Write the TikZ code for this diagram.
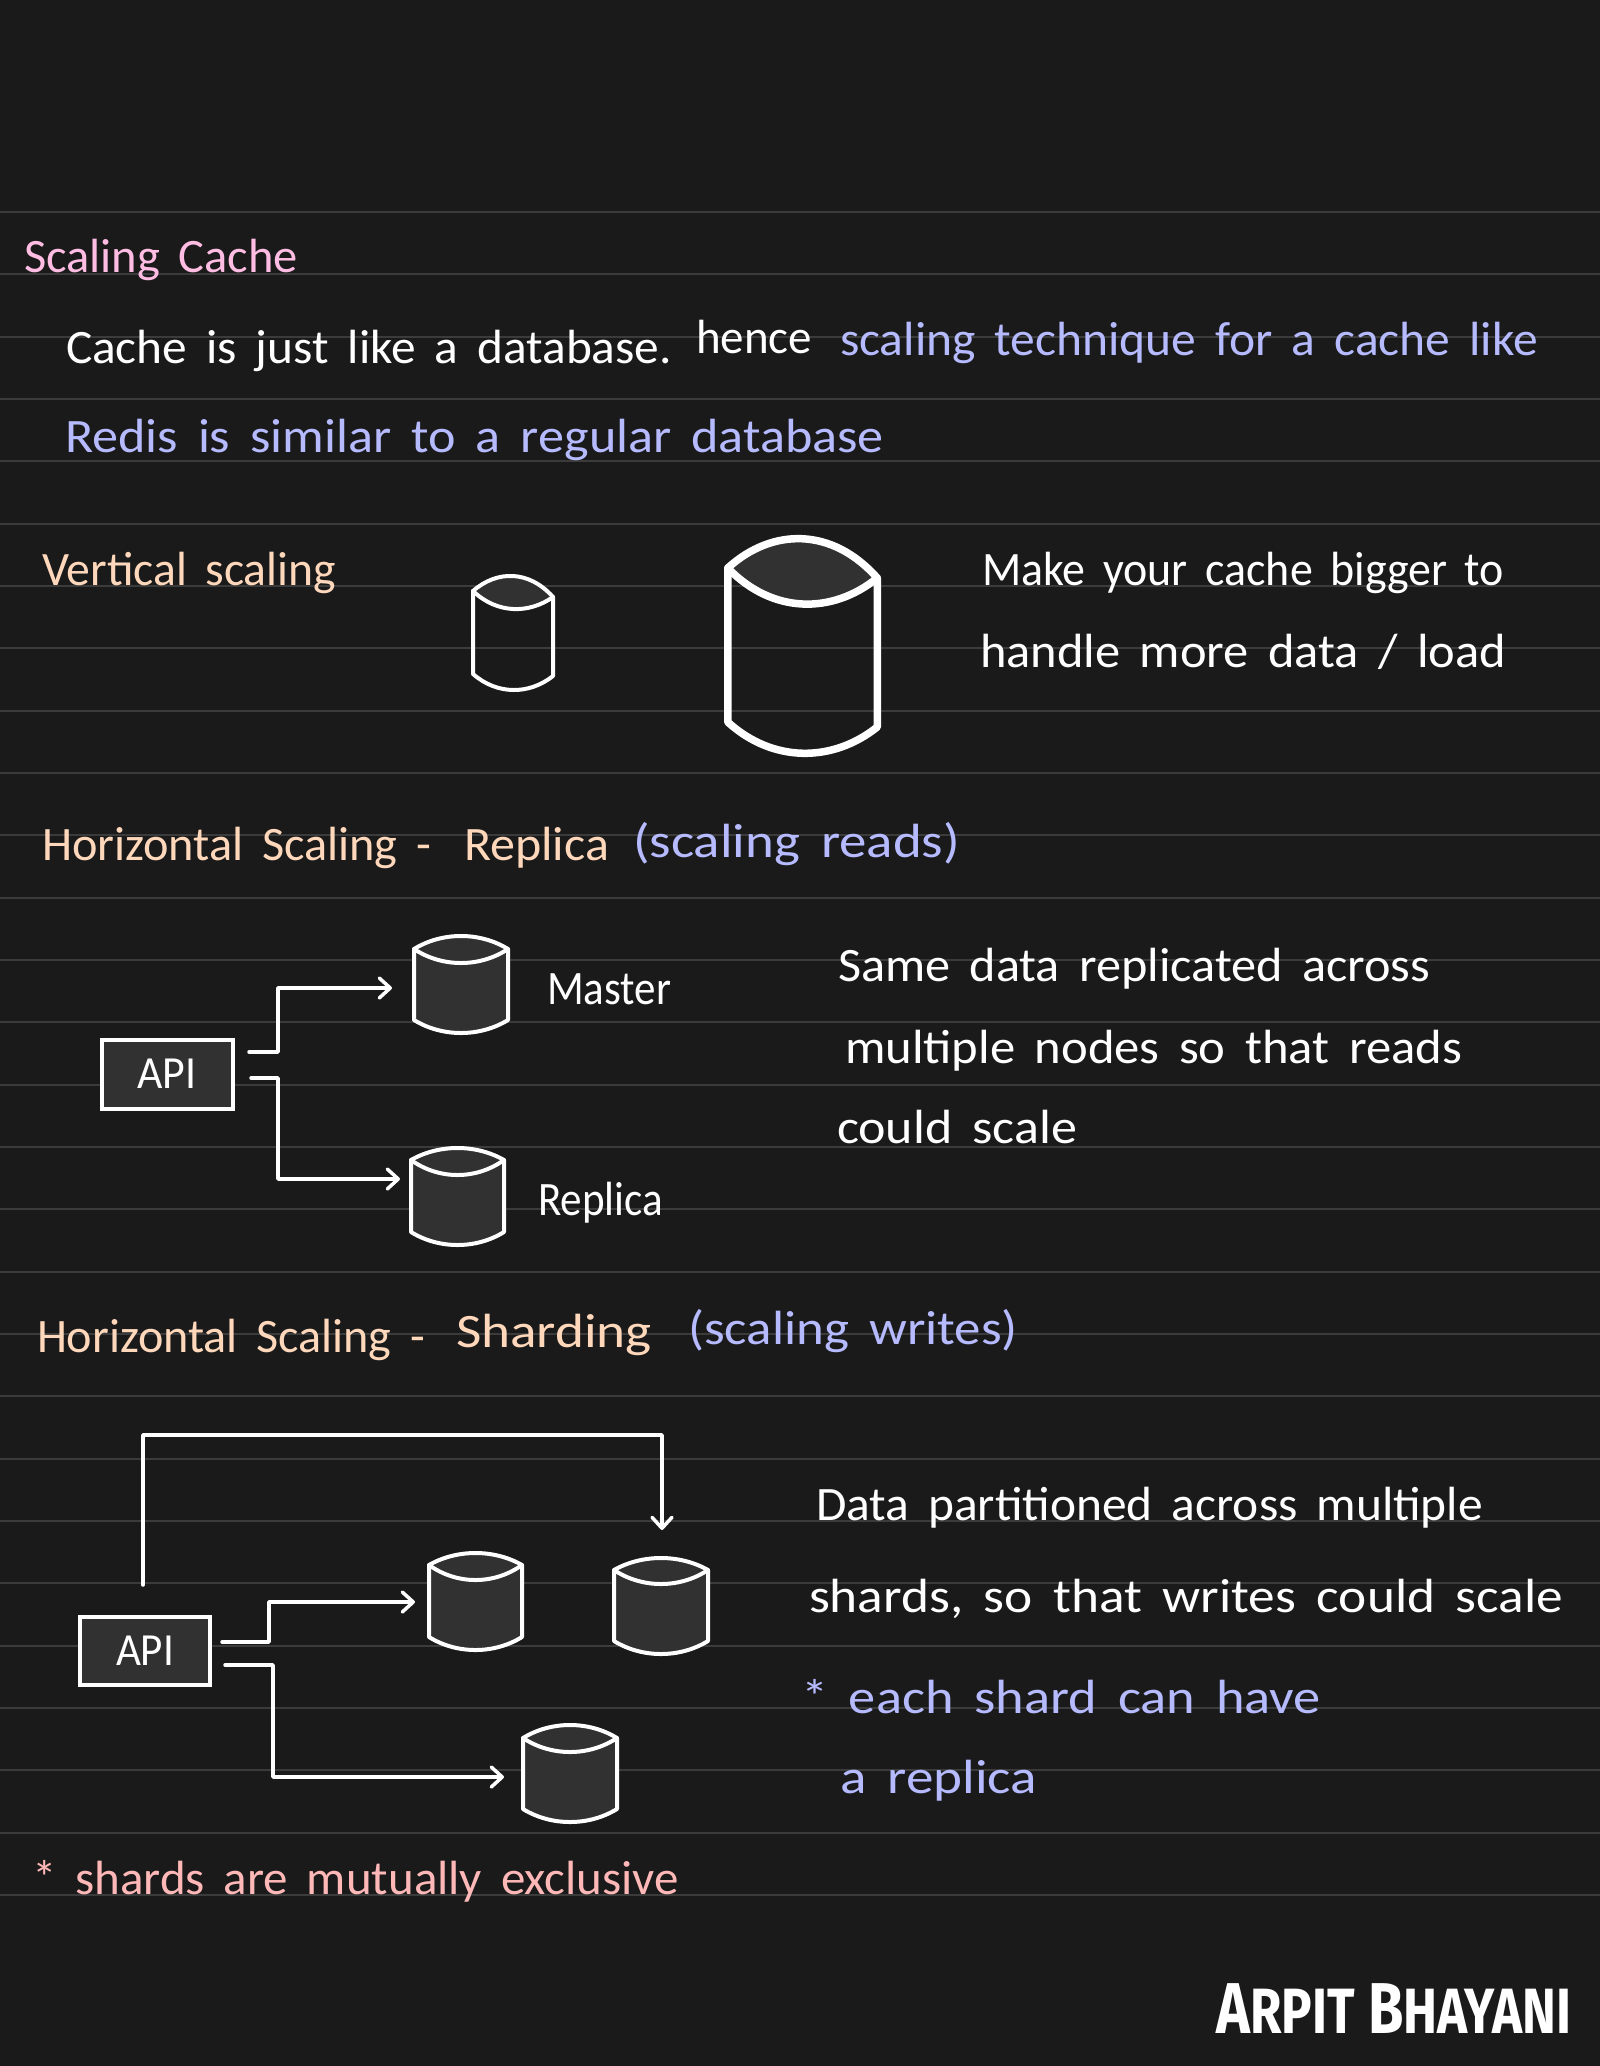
\documentclass[tikz,border=0pt]{standalone}
\usepackage{fontspec}
\usepackage{graphicx}
\usetikzlibrary{arrows.meta}
\setmainfont{Carlito}[WordSpace=1.7]
\newfontfamily\brandfont{Fira Sans}
\definecolor{bgc}{HTML}{1A1A1A}
\definecolor{rulec}{HTML}{3B3B3B}
\definecolor{cylc}{HTML}{313131}
\definecolor{pinkc}{HTML}{FFBDE3}
\definecolor{lavc}{HTML}{B6BAFF}
\definecolor{peachc}{HTML}{FFD8BC}
\definecolor{salmc}{HTML}{FFB8B8}
\tikzset{
  hw/.style={anchor=base west,inner sep=0pt,outer sep=0pt,font=\fontsize{48}{52}\selectfont},
  white text/.style={hw,text=white},
  pink text/.style={hw,text=pinkc},
  lav text/.style={hw,text=lavc},
  peach text/.style={hw,text=peachc},
  salm text/.style={hw,text=salmc},
  apibox/.style={draw=white,fill=cylc,line width=4pt,inner sep=0pt,text=white,font=\fontsize{46}{48}\selectfont},
  conn/.style={draw=white,line width=3.5pt,line join=round,line cap=round},
  arr/.style={conn,-{Straight Barb[length=11pt,width=20pt,line width=3.5pt,round]}},
  cyloutline/.style={draw=white,line join=round,line cap=round},
  ruleline/.style={draw=rulec,line width=2pt}
}
% name, left, right, top, rim left, rim right, inner, bottom-side left, bottom-side right | bottom, line width, body fill
\newcommand{\cylshape}[9]{%
  \def\cN{#1}\def\cL{#2}\def\cR{#3}\def\cT{#4}\def\cRL{#5}\def\cRR{#6}\def\cI{#7}\def\cBL{#8}\def\cBR{#9}\cylfinish}
\newcommand{\cylfinish}[3]{%
  \pgfmathsetmacro\cl{\cL+#2/2}\pgfmathsetmacro\cr{\cR-#2/2}
  \pgfmathsetmacro\ca{\cl+0.3*(\cr-\cl)}\pgfmathsetmacro\cb{\cr-0.3*(\cr-\cl)}
  \pgfmathsetmacro\ct{(4*(\cT+#2/2)-(\cRL+\cRR)/2)/3}
  \pgfmathsetmacro\ci{(4*\cI-(\cRL+\cRR)/2)/3}
  \pgfmathsetmacro\cd{(4*(#1-#2/2)-(\cBL+\cBR)/2)/3}
  \pgfmathsetmacro\mx{(\cL+\cR)/2}\pgfmathsetmacro\my{(\cT+#1)/2}
  \pgfmathsetmacro\wdd{\cR-\cL}\pgfmathsetmacro\htt{#1-\cT}
  \node[inner sep=0pt,outer sep=0pt,minimum width=\wdd pt,minimum height=\htt pt] (\cN) at (\mx,\my) {};
  \fill[cylc] (\cl,\cRL) .. controls (\ca,\ct) and (\cb,\ct) .. (\cr,\cRR)
     .. controls (\cb,\ci) and (\ca,\ci) .. cycle;
  \ifnum#3=1
    \fill[cylc] (\cl,\cRL) -- (\cr,\cRR) -- (\cr,\cBR) .. controls (\cb,\cd) and (\ca,\cd) .. (\cl,\cBL) -- cycle;
  \fi
  \draw[cyloutline,line width=#2 pt] (\cl,\cBL) -- (\cl,\cRL) .. controls (\ca,\ct) and (\cb,\ct) .. (\cr,\cRR) -- (\cr,\cBR)
     .. controls (\cb,\cd) and (\ca,\cd) .. cycle;
  \draw[cyloutline,line width=#2 pt] (\cl,\cRL) .. controls (\ca,\ci) and (\cb,\ci) .. (\cr,\cRR);
}
\newcommand{\hw}[6]{\node[#1] (#2) at (#3,#4) {\resizebox{#5pt}{\height}{#6}};}
\begin{document}
\begin{tikzpicture}[x=1pt,y=-1pt]
\useasboundingbox (0,0) rectangle (1600,2066);
\fill[bgc] (0,0) rectangle (1600,2066);
\foreach \n in {0,...,27}{
  \pgfmathsetmacro\yy{212+62.33*\n}
  \draw[ruleline] (0,\yy) -- (1600,\yy);
}
% texts
\hw{pink text}{t1}{24}{272}{274}{Scaling Cache}
\hw{white text}{t2}{66}{363}{606}{Cache is just like a database.}
\hw{white text}{t3}{696}{353}{116}{hence}
\hw{lav text}{t4}{840}{355}{698}{scaling technique for a cache like}
\hw{lav text}{t5}{65}{452}{819}{Redis is similar to a regular database}
\hw{peach text}{t6}{42}{585}{294}{Vertical scaling}
\hw{white text}{t7}{982}{585}{522}{Make your cache bigger to}
\hw{white text}{t8}{980}{667}{526}{handle more data / load}
\hw{peach text}{t9}{42}{860}{389}{Horizontal Scaling -}
\hw{peach text}{t10}{464}{860}{145}{Replica}
\hw{lav text}{t11}{633}{857}{327}{(scaling reads)}
\hw{white text}{t12}{547}{1004}{124}{Master}
\hw{white text}{t13}{538}{1215}{125}{Replica}
\hw{white text}{t14}{838}{981}{592}{Same data replicated across}
\hw{white text}{t15}{845}{1063}{617}{multiple nodes so that reads}
\hw{white text}{t16}{837}{1143}{240}{could scale}
\hw{peach text}{t17}{37}{1352}{388}{Horizontal Scaling -}
\hw{peach text}{t18}{456}{1347}{196}{Sharding}
\hw{lav text}{t19}{688}{1344}{330}{(scaling writes)}
\hw{white text}{t20}{816}{1520}{667}{Data partitioned across multiple}
\hw{white text}{t21}{809}{1612}{754}{shards, so that writes could scale}
\hw{lav text}{t22}{801}{1713}{520}{* each shard can have}
\hw{lav text}{t23}{840}{1793}{197}{a replica}
\hw{salm text}{t24}{32}{1894}{647}{* shards are mutually exclusive}
% brand
\node[anchor=base west,inner sep=0pt,text=white] (brand) at (1216,2033)
  {\resizebox{355pt}{\height}{\brandfont\bfseries\fontsize{72}{74}\selectfont A{\fontsize{64}{66}\selectfont RPIT} B{\fontsize{64}{66}\selectfont HAYANI}}};
% vertical scaling cylinders
\cylshape{vsmall}{471}{555}{574}{591}{597}{609}{674}{676}{692}{4}{0}
\cylshape{vbig}{724}{881}{535}{568}{578}{604}{722}{727}{757}{7.5}{0}
% replica section
\cylshape{master}{412}{510}{934}{949}{949}{963}{1020}{1020}{1035}{4}{1}
\cylshape{replica}{409}{506}{1146}{1160}{1160}{1175}{1232}{1232}{1247}{4}{1}
\node[apibox,minimum width=131pt,minimum height=69pt] (api1) at (167,1074) {\resizebox{59pt}{\height}{API}};
\coordinate (a1s) at (249,1052);
\coordinate (a1e) at (392,988);
\coordinate (a2s) at (251,1078);
\coordinate (a2e) at (400,1179);
\draw[arr] (a1s) -- ++(29,0) |- (a1e);
\draw[arr] (a2s) -- ++(27,0) |- (a2e);
% sharding section
\cylshape{shardA}{427}{524}{1551}{1565}{1565}{1580}{1637}{1637}{1652}{4}{1}
\cylshape{shardB}{612}{710}{1556}{1570}{1570}{1584}{1641}{1641}{1656}{4}{1}
\cylshape{shardC}{521}{619}{1723}{1738}{1738}{1752}{1809}{1809}{1824}{4}{1}
\node[apibox,minimum width=130pt,minimum height=68pt] (api2) at (145,1651) {\resizebox{58pt}{\height}{API}};
\coordinate (b1s) at (143,1585);
\coordinate (b1c) at (143,1435);
\coordinate (b1e) at (662,1530);
\coordinate (b2s) at (222,1642);
\coordinate (b2e) at (415,1602);
\coordinate (b3s) at (225,1665);
\coordinate (b3e) at (504,1777);
\draw[arr] (b1s) -- (b1c) -| (b1e);
\draw[arr] (b2s) -- ++(47,0) |- (b2e);
\draw[arr] (b3s) -- ++(48,0) |- (b3e);
\end{tikzpicture}
\end{document}
